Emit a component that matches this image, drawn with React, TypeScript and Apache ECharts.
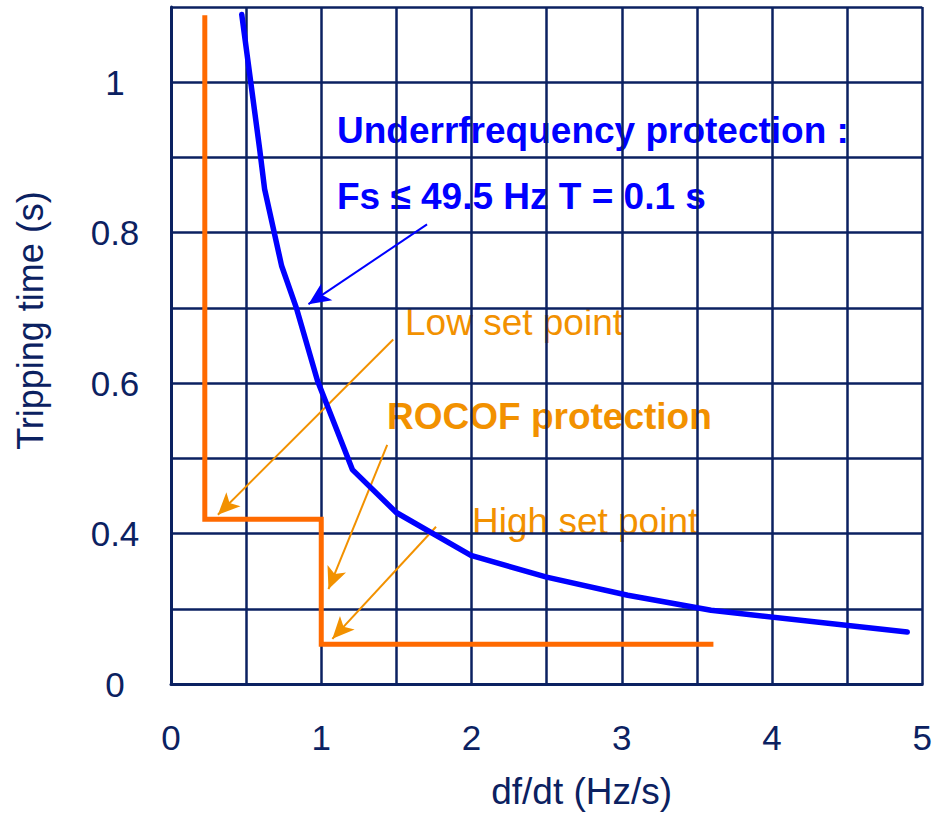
import React, { useEffect, useRef } from 'react';
import * as echarts from 'echarts';

// ---- tick labels ----
const xTickValues = [0, 1, 2, 3, 4, 5];
const xTickLabels = ['0', '1', '2', '3', '4', '5'];
const yTickValues = [0.2, 0.4, 0.6, 0.8, 1.0];
const yTickLabels = ['0', '0.4', '0.6', '0.8', '1'];

// ---- underfrequency protection curve (blue) ----
const underfreqDfdt = [0.471, 0.59, 0.623, 0.736, 0.836, 0.975, 1.207, 1.499, 1.996, 2.5, 3.04, 3.594, 4.9];
const underfreqTime = [1.09, 0.911, 0.858, 0.756, 0.699, 0.603, 0.485, 0.428, 0.371, 0.342, 0.318, 0.298, 0.269];

// ---- ROCOF protection step (orange) ----
const rocofDfdt = [0.225, 0.225, 1.0, 1.0, 3.61];
const rocofTime = [1.089, 0.419, 0.419, 0.253, 0.253];

// ---- annotation arrows: [tail, tip] in data units ----
const arrowUnderfreq = [[1.704, 0.811], [0.915, 0.705]];
const arrowLow = [[1.479, 0.658], [0.312, 0.425]];
const arrowRocof = [[1.439, 0.518], [1.048, 0.326]];
const arrowHigh = [[1.764, 0.409], [1.074, 0.26]];

const NAVY = '#0B2161';
const BLUE = '#0000FF';
const ORANGE = '#FF6A00';
const AMBER = '#F29100';
const FONT = '"Liberation Sans", Arial, sans-serif';

function lookup(v: number, values: number[], labels: string[]) {
  for (let i = 0; i < values.length; i++) {
    if (Math.abs(v - values[i]) < 1e-6) return labels[i];
  }
  return '';
}

function arrowItem(a: number[][], color: string) {
  return [
    { coord: a[0], symbol: 'none', lineStyle: { color, width: 2, type: 'solid' } },
    { coord: a[1], symbol: 'arrow', symbolSize: [15, 22] },
  ];
}

export default function App() {
  const ref = useRef<HTMLDivElement>(null);

  useEffect(() => {
    if (!ref.current) return;
    const chart = echarts.init(ref.current, null, { renderer: 'svg' });
    const option: any = {
      animation: false,
      backgroundColor: '#ffffff',
      grid: { left: 171, right: 10, top: 7, bottom: 128, containLabel: false },
      xAxis: {
        type: 'value',
        min: 0,
        max: 5,
        interval: 0.5,
        axisLine: { show: true, lineStyle: { color: NAVY, width: 3 } },
        axisTick: { show: false },
        splitLine: { show: true, lineStyle: { color: NAVY, width: 2.5 } },
        axisLabel: {
          color: NAVY,
          fontSize: 35,
          fontFamily: FONT,
          margin: 36,
          formatter: (v: number) => lookup(v, xTickValues, xTickLabels),
        },
        name: 'df/dt (Hz/s)',
        nameLocation: 'middle',
        nameGap: 89,
        nameTextStyle: { color: NAVY, fontSize: 37, fontFamily: FONT, padding: [0, 0, 0, 70] },
      },
      yAxis: {
        type: 'value',
        min: 0.2,
        max: 1.1,
        interval: 0.1,
        axisLine: { show: true, lineStyle: { color: NAVY, width: 3 } },
        axisTick: { show: false },
        splitLine: { show: true, lineStyle: { color: NAVY, width: 2.5 } },
        axisLabel: {
          color: NAVY,
          fontSize: 35,
          fontFamily: FONT,
          align: 'center',
          margin: 56,
          formatter: (v: number) => lookup(v, yTickValues, yTickLabels),
        },
        name: 'Tripping time (s)',
        nameLocation: 'middle',
        nameGap: 123,
        nameTextStyle: { color: NAVY, fontSize: 36, fontFamily: FONT, padding: [0, 0, 0, 50] },
      },
      graphic: [
        {
          type: 'text', x: 337, y: 130, z: -1,
          style: { text: 'Underrfrequency protection :', fill: BLUE, fontSize: 37, fontWeight: 'bold', fontFamily: FONT, verticalAlign: 'middle', align: 'left' },
        },
        {
          type: 'text', x: 337, y: 196, z: -1,
          style: { text: 'Fs \u2264 49.5 Hz T = 0.1 s', fill: BLUE, fontSize: 37, fontWeight: 'bold', fontFamily: FONT, verticalAlign: 'middle', align: 'left' },
        },
        {
          type: 'text', x: 405, y: 322, z: -1,
          style: { text: 'Low set point', fill: AMBER, fontSize: 37, fontFamily: FONT, verticalAlign: 'middle', align: 'left' },
        },
        {
          type: 'text', x: 387, y: 416, z: -1,
          style: { text: 'ROCOF protection', fill: AMBER, fontSize: 37, fontWeight: 'bold', fontFamily: FONT, verticalAlign: 'middle', align: 'left' },
        },
        {
          type: 'text', x: 472, y: 521, z: -1,
          style: { text: 'High set point', fill: AMBER, fontSize: 37, fontFamily: FONT, verticalAlign: 'middle', align: 'left' },
        },
      ],
      series: [
        {
          name: 'Underfrequency protection',
          type: 'line',
          data: underfreqDfdt.map((x, i) => [x, underfreqTime[i]]),
          showSymbol: false,
          symbol: 'none',
          lineStyle: { color: BLUE, width: 5.5, cap: 'round', join: 'round' },
          z: 5,
          markLine: {
            silent: true,
            animation: false,
            label: { show: false },
            data: [arrowItem(arrowUnderfreq, BLUE)],
          },
        },
        {
          name: 'ROCOF protection',
          type: 'line',
          data: rocofDfdt.map((x, i) => [x, rocofTime[i]]),
          showSymbol: false,
          symbol: 'none',
          lineStyle: { color: ORANGE, width: 5, cap: 'butt', join: 'miter' },
          z: 4,
          markLine: {
            silent: true,
            animation: false,
            label: { show: false },
            data: [arrowItem(arrowLow, AMBER), arrowItem(arrowRocof, AMBER), arrowItem(arrowHigh, AMBER)],
          },
        },
      ],
    };
    chart.setOption(option);
    return () => chart.dispose();
  }, []);

  return (
    <div
      ref={ref}
      style={{ position: 'fixed', left: 0, top: 0, width: 935, height: 815, background: '#fff' }}
    />
  );
}
